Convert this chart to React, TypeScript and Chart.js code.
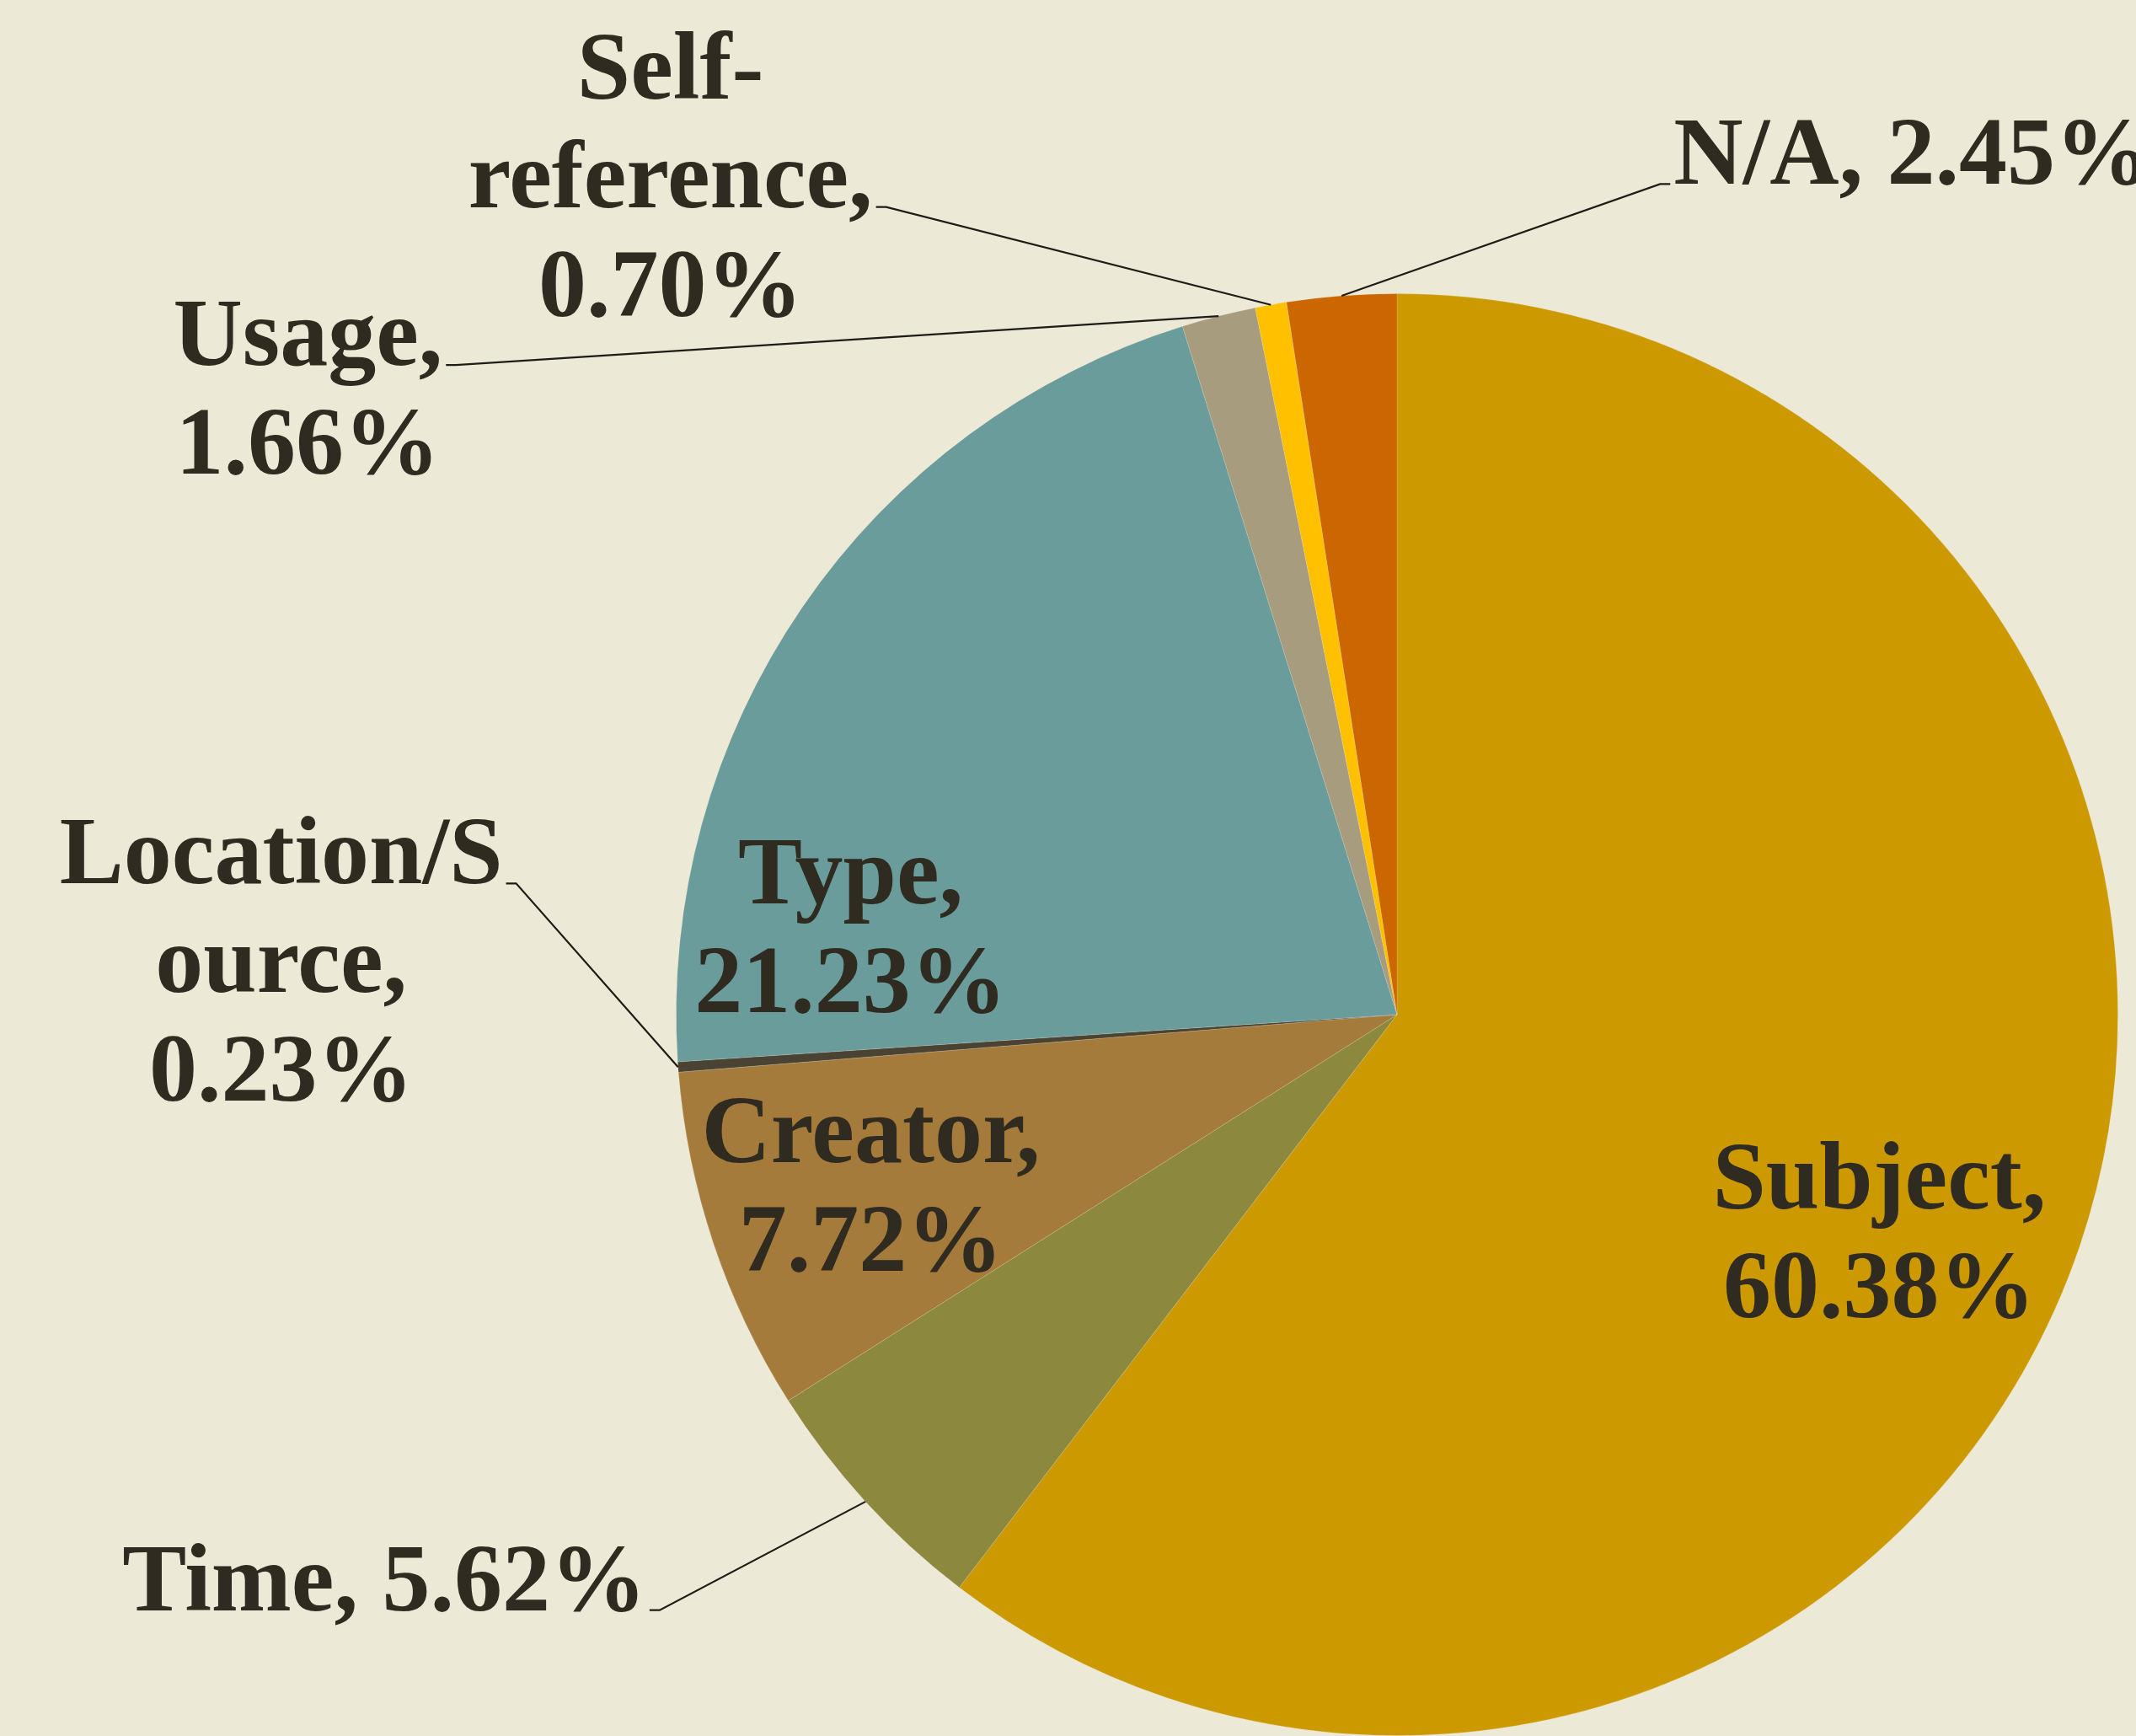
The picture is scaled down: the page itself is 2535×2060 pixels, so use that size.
import { useEffect, useRef } from "react";
import { Chart, registerables } from "chart.js";

Chart.register(...registerables);

// ---- data ----
const categories = [
  "Subject",
  "Time",
  "Creator",
  "Location/Source",
  "Type",
  "Usage",
  "Self-reference",
  "N/A",
];
const shares = [60.38, 5.62, 7.72, 0.23, 21.23, 1.66, 0.7, 2.45];
const sliceColors = [
  "#CC9900",
  "#8C893E",
  "#A47B3A",
  "#4A4232",
  "#699C9A",
  "#A89C7F",
  "#FFC000",
  "#CC6600",
];

// ---- styling / label layout (offsets in units of pie radius from its centre) ----
const BG = "#ECE9D6";
const TEXT = "#2F2B20";
const FONT = 'bold 114px "Liberation Serif", serif';
const LINE_H = 129;
const GAP = 4;
const TICK = 12;

type Leader = { line: number; side: "left" | "right" } | null;
const labelLayout: { breaks: number[]; dx: number; dy: number; leader: Leader }[] = [
  { breaks: [8], dx: 0.669, dy: 0.269, leader: null },
  { breaks: [], dx: -1.405, dy: 0.826, leader: { line: 0, side: "right" } },
  { breaks: [8], dx: -0.73, dy: 0.204, leader: null },
  { breaks: [10, 16], dx: -1.548, dy: -0.182, leader: { line: 0, side: "right" } },
  { breaks: [5], dx: -0.758, dy: -0.154, leader: null },
  { breaks: [6], dx: -1.511, dy: -0.901, leader: { line: 0, side: "right" } },
  { breaks: [5, 15], dx: -1.008, dy: -1.271, leader: { line: 1, side: "right" } },
  { breaks: [], dx: 0.715, dy: -1.152, leader: { line: 0, side: "left" } },
];

function splitAt(text: string, breaks: number[]): string[] {
  const out: string[] = [];
  let prev = 0;
  for (const b of breaks) {
    out.push(text.slice(prev, b).trim());
    prev = b;
  }
  out.push(text.slice(prev).trim());
  return out;
}

const labelPlugin = {
  id: "sliceLabels",
  afterDatasetsDraw(chart: any) {
    const ctx: CanvasRenderingContext2D = chart.ctx;
    const meta = chart.getDatasetMeta(0);
    ctx.save();
    meta.data.forEach((arc: any, i: number) => {
      const p = arc.getProps(["x", "y", "startAngle", "endAngle", "outerRadius"], true);
      const L = labelLayout[i];
      const text = `${categories[i]}, ${shares[i].toFixed(2)}%`;
      const lines = splitAt(text, L.breaks);
      const cx = p.x + L.dx * p.outerRadius;
      const by = p.y + L.dy * p.outerRadius;
      ctx.font = FONT;
      ctx.fillStyle = TEXT;
      ctx.textAlign = "center";
      ctx.textBaseline = "alphabetic";
      lines.forEach((ln, k) => ctx.fillText(ln, cx, by + k * LINE_H));
      if (L.leader) {
        const ln = lines[L.leader.line];
        const w = ctx.measureText(ln).width;
        const ly = by + L.leader.line * LINE_H;
        const s = L.leader.side === "right" ? 1 : -1;
        const x0 = cx + s * (w / 2 + GAP);
        const x1 = x0 + s * TICK;
        const mid = (p.startAngle + p.endAngle) / 2;
        const ax = p.x + Math.cos(mid) * p.outerRadius;
        const ay = p.y + Math.sin(mid) * p.outerRadius;
        ctx.strokeStyle = "#1E1C16";
        ctx.lineWidth = 2.2;
        ctx.beginPath();
        ctx.moveTo(x0, ly);
        ctx.lineTo(x1, ly);
        ctx.lineTo(ax, ay);
        ctx.stroke();
      }
    });
    ctx.restore();
  },
};

export default function App() {
  const ref = useRef<HTMLCanvasElement | null>(null);
  useEffect(() => {
    document.body.style.margin = "0";
    const chart = new Chart(ref.current!, {
      type: "pie",
      data: {
        labels: categories,
        datasets: [
          {
            data: shares,
            backgroundColor: sliceColors,
            borderWidth: 1,
            borderColor: "rgba(236,233,214,0.18)",
          },
        ],
      },
      options: {
        animation: false,
        responsive: true,
        maintainAspectRatio: false,
        layout: { padding: { top: 348, bottom: 0, left: 802, right: 21 } },
        plugins: { legend: { display: false }, tooltip: { enabled: false } },
      },
      plugins: [labelPlugin],
    });
    return () => chart.destroy();
  }, []);
  return (
    <div
      style={{
        position: "fixed",
        left: 0,
        top: 0,
        width: 2535,
        height: 2060,
        background: BG,
        overflow: "hidden",
      }}
    >
      <canvas ref={ref} />
    </div>
  );
}
